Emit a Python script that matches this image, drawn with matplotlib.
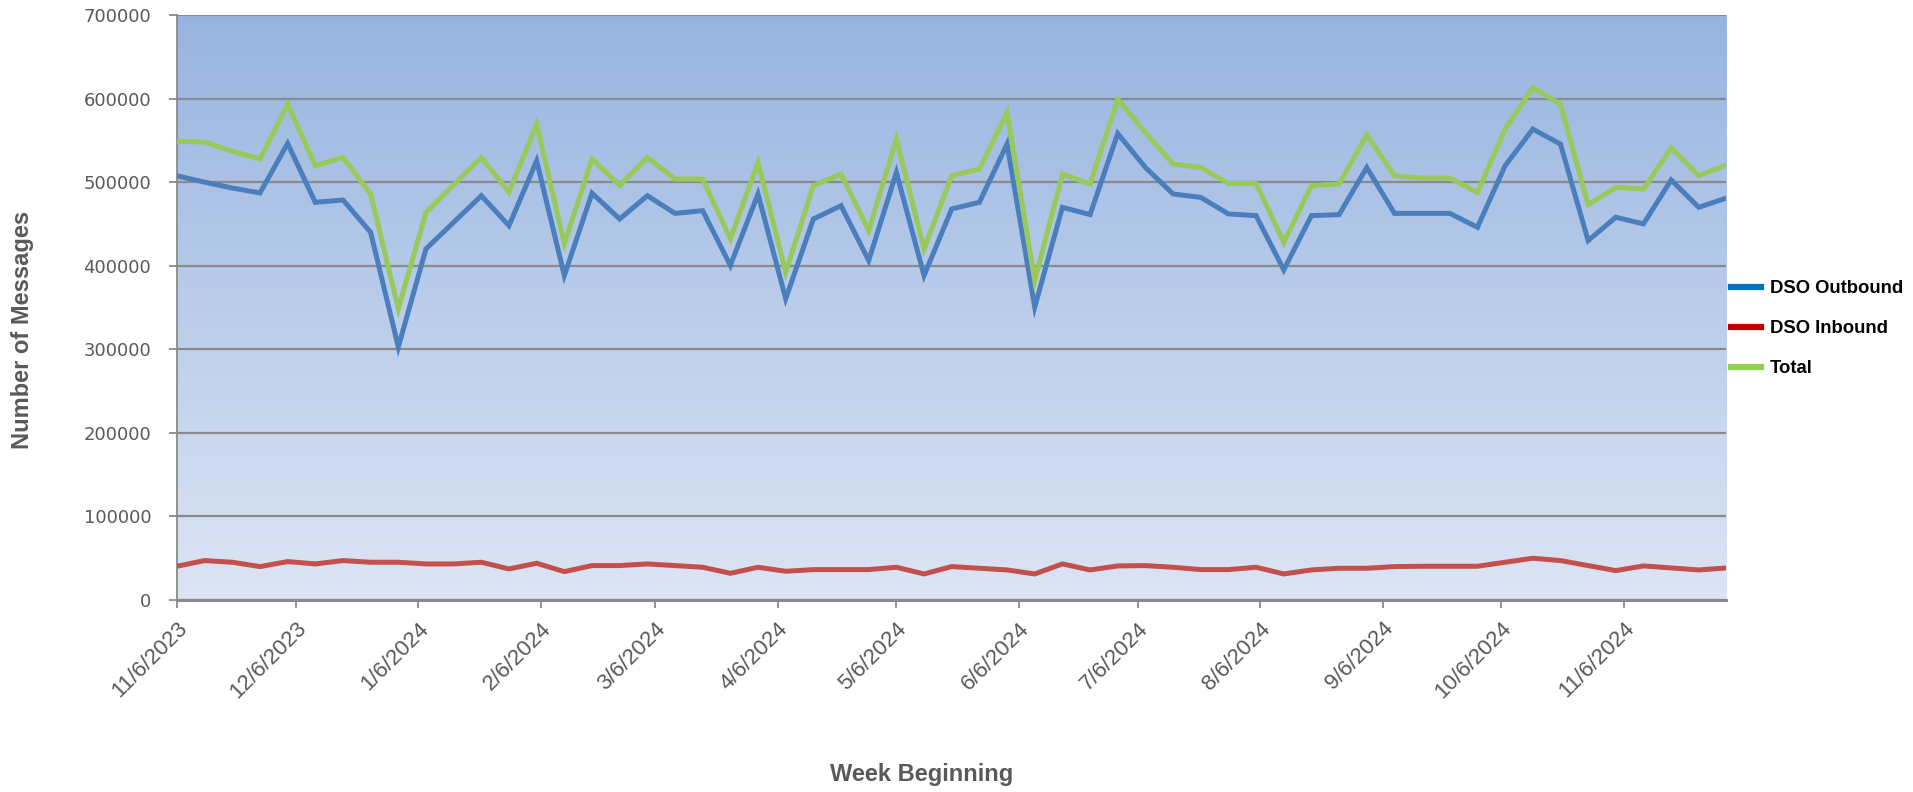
"""
Weekly DSO message volumes, Nov 2023 - Dec 2024.
"""

import matplotlib
matplotlib.use('Agg')
import matplotlib.pyplot as plt
import matplotlib.dates as mdates
from matplotlib.lines import Line2D
from matplotlib.colors import LinearSegmentedColormap
import numpy as np
import pandas as pd

plt.rcParams['font.family'] = ['Liberation Sans', 'DejaVu Sans']

# weekly x categories (week beginning)
weeks = pd.date_range('2023-11-06', periods = 57, freq = '7D')

dso_outbound = [507700, 500000, 493000, 487100, 546300, 475900, 478700, 440000,
                302800, 420200, 452000, 483800, 448000, 525600, 388300, 486800,
                456000, 483800, 462700, 465900, 400300, 485900, 360500, 456000,
                471900, 406300, 511700, 388300, 468000, 475900, 545600, 350500,
                469900, 461200, 558200, 517600, 485900, 481800, 462000, 460000,
                395100, 460000, 461200, 517600, 462700, 462700, 462700, 446000,
                519700, 563500, 545600, 430100, 458000, 450100, 502600, 469900,
                481100]

dso_inbound = [40400, 47200, 45200, 40000, 46000, 43200, 47200, 45200,
               45200, 43200, 43200, 45200, 37200, 44000, 34000, 41200,
               41200, 43200, 41200, 39200, 32000, 39200, 34400, 36400,
               36400, 36400, 39200, 31200, 40000, 38000, 36000, 31200,
               43200, 36000, 40800, 41200, 39200, 36400, 36400, 39200,
               31200, 36000, 38000, 38000, 40000, 40400, 40400, 40400,
               45200, 50000, 47200, 41200, 35200, 40800, 38400, 36000,
               38400]

total = [548700, 548000, 537000, 527700, 593300, 519700, 529600, 485900,
         348600, 463900, 497000, 529600, 487800, 569400, 426200, 528000,
         495800, 529600, 503700, 503700, 432100, 523600, 392300, 495800,
         509700, 442100, 551500, 420200, 507700, 515700, 583300, 382400,
         509700, 497800, 599300, 559400, 521700, 517600, 498500, 498500,
         428100, 495800, 497800, 556700, 507700, 505000, 505000, 487800,
         563500, 613200, 593300, 473100, 493800, 491800, 540800, 507700,
         520800]

series_names = ['DSO Outbound', 'DSO Inbound', 'Total']
line_colors = ['#4A7EBD', '#C4504E', '#98C95A']
legend_colors = ['#0070C0', '#C00000', '#92D050']

fig = plt.figure(figsize = (19.13, 7.92), dpi = 100)
ax = fig.add_axes([0.0925, 0.2424, 0.81, 0.7386])

# gradient plot area background
grad = np.linspace(0, 1, 256).reshape(-1, 1)
cmap = LinearSegmentedColormap.from_list('bg', ['#DDE5F4', '#97B4E0'])
ax.imshow(grad, cmap = cmap, extent = [0, 1, 0, 1], transform = ax.transAxes,
          aspect = 'auto', origin = 'lower', zorder = 0)

for vals, col in zip([dso_outbound, dso_inbound, total], line_colors):
    ax.plot(weeks, vals, color = col, lw = 3.6, zorder = 3,
            solid_joinstyle = 'miter')

ax.set_xlim(weeks[0], weeks[-1])
ax.set_ylim(0, 700000)
ax.set_yticks(np.arange(0, 700001, 100000))
ax.yaxis.grid(True, color = '#8A8A8A', lw = 1.6, zorder = 1)
ax.set_axisbelow(False)

ax.xaxis.set_major_locator(mdates.MonthLocator(bymonthday = 6))
ax.xaxis.set_major_formatter(
    matplotlib.ticker.FuncFormatter(
        lambda v, pos: f'{mdates.num2date(v).month}/6/{mdates.num2date(v).year}'))
ax.xaxis.set_ticks(ax.get_xticks()[ax.get_xticks() <= mdates.date2num(weeks[-1])])

ax.tick_params(axis = 'both', colors = '#8A8A8A', labelcolor = '#595959',
               length = 6, width = 1.3)
ax.tick_params(axis = 'y', labelsize = 13, pad = 12.5, labelfontfamily = 'DejaVu Sans')
ax.tick_params(axis = 'x', labelsize = 16, pad = 7)

for lab in ax.get_xticklabels():
    lab.set_rotation(45)
    lab.set_ha('right')
    lab.set_rotation_mode('anchor')

for side in ['top', 'right']:
    ax.spines[side].set_visible(False)
ax.spines['left'].set_color('#8A8A8A')
ax.spines['left'].set_linewidth(1.3)
ax.spines['bottom'].set_color('#8A8A8A')
ax.spines['bottom'].set_linewidth(2.2)

fig.text(0.012, 0.583, 'Number of Messages', rotation = 90, ha = 'center',
         va = 'center', fontsize = 17, fontweight = 'bold', color = '#595959')
fig.text(0.482, 0.022, 'Week Beginning', ha = 'center', va = 'center',
         fontsize = 17, fontweight = 'bold', color = '#595959')

handles = [Line2D([0], [0], color = c, lw = 4.5) for c in legend_colors]
leg = fig.legend(handles, series_names, loc = 'center left',
                 bbox_to_anchor = (0.905, 0.585), frameon = False,
                 borderaxespad = 0, borderpad = 0,
                 prop = {'size': 13.3, 'weight': 'bold'},
                 handlelength = 1.6, handletextpad = 0.5, labelspacing = 1.25)

fig.savefig('out.png', dpi = 100)
